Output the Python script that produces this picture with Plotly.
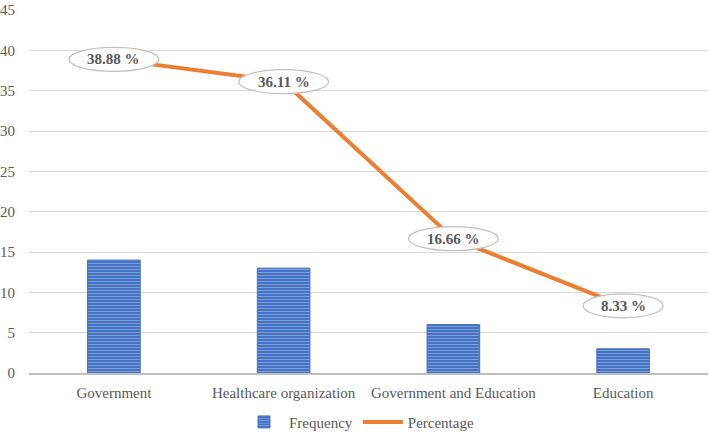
import plotly.graph_objects as go

categories = ["Government", "Healthcare organization", "Government and Education", "Education"]
frequency = [14, 13, 6, 3]
percentage = [38.88, 36.11, 16.66, 8.33]
pct_labels = ["38.88 %", "36.11 %", "16.66 %", "8.33 %"]
y_ticks = [0, 5, 10, 15, 20, 25, 30, 35, 40, 45]

FONT = "Liberation Serif"
GRAY = "#595959"

fig = go.Figure()
fig.add_trace(go.Bar(
    x=categories, y=frequency, name="Frequency", width=0.31,
    marker=dict(color="#4472C4", line=dict(color="#4472C4", width=1),
                pattern=dict(shape="-", fgcolor="#c5d3ee", bgcolor="#4472C4", size=3, solidity=0.3)),
))
fig.add_trace(go.Scatter(
    x=categories, y=percentage, name="Percentage", mode="lines",
    line=dict(color="#ED7D31", width=4),
))

for i, (v, t) in enumerate(zip(percentage, pct_labels)):
    half = 45 if len(t) > 6 else 40
    fig.add_shape(type="circle", xref="x", yref="y", xsizemode="pixel", ysizemode="pixel",
                  xanchor=i, yanchor=v, x0=-half, x1=half, y0=-12, y1=12,
                  fillcolor="white", line=dict(color="#bfbfbf", width=1.2), layer="above")
    fig.add_annotation(x=i, y=v, text="<b>%s</b>" % t, showarrow=False,
                       font=dict(family=FONT, size=15, color=GRAY))

fig.update_layout(
    width=709, height=433,
    margin=dict(l=29, r=1, t=10, b=60),
    plot_bgcolor="white", paper_bgcolor="white",
    font=dict(family=FONT, size=15, color=GRAY),
    showlegend=True,
    legend=dict(orientation="h", x=0.486, xanchor="center", yref="container", y=0.025, yanchor="middle",
                font=dict(family=FONT, size=15, color=GRAY), itemwidth=40),
    xaxis=dict(showgrid=False, showline=True, linecolor="#bfbfbf", linewidth=1.5,
               tickfont=dict(family=FONT, size=15, color=GRAY), ticks="", ticklabelstandoff=5),
    yaxis=dict(range=[0, 45], tickvals=y_ticks, showgrid=True, gridcolor="#d9d9d9", gridwidth=1,
               zeroline=False, showline=False, ticks="", ticklabelstandoff=13,
               tickfont=dict(family=FONT, size=15, color=GRAY)),
)

fig.write_html("out.html", config={"displayModeBar": False},
               post_script="document.body.style.margin='0';document.body.style.padding='0';")
